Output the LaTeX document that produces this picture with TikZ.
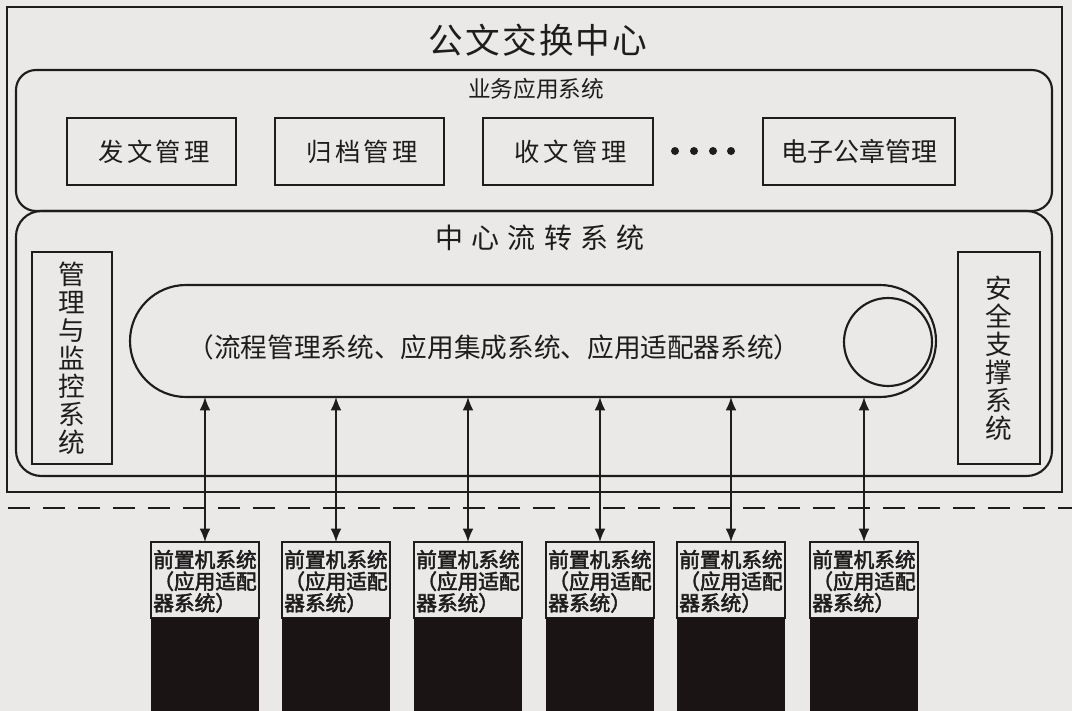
\documentclass[tikz,border=0pt]{standalone}
\usepackage{fontspec}
\newfontfamily\cjk{Noto Sans CJK SC}
\newfontfamily\cjkA[LetterSpace=6]{Noto Sans CJK SC}
\newfontfamily\cjkB[LetterSpace=14]{Noto Sans CJK SC}
\newfontfamily\cjkC[LetterSpace=30]{Noto Sans CJK SC}
\newfontfamily\cjkD[FakeBold=2.5]{Noto Sans CJK SC}
\usetikzlibrary{fit,arrows.meta}
\definecolor{bg}{RGB}{234,233,231}
\definecolor{ink}{RGB}{30,28,28}
\definecolor{blk}{RGB}{26,20,20}
\tikzset{
  frame/.style={draw=ink, line width=1.6pt, inner sep=0pt, outer sep=0pt},
  titletext/.style={font=\cjkA\fontsize{26pt}{30pt}\selectfont, text=ink},
  subtitle/.style={font=\cjk\fontsize{17pt}{20pt}\selectfont, text=ink},
  boxtext/.style={font=\cjkB\fontsize{19pt}{22pt}\selectfont, text=ink, inner sep=0pt},
  flowtitle/.style={font=\cjkC\fontsize{21pt}{24pt}\selectfont, text=ink},
  vtext/.style={font=\cjk\fontsize{20pt}{21pt}\selectfont, text=ink, align=center, inner sep=0pt},
  midtext/.style={font=\cjk\fontsize{20pt}{24pt}\selectfont, text=ink},
  pctext/.style={font=\cjkD\fontsize{15.5pt}{16.2pt}\selectfont, text=ink, align=left, inner sep=0pt},
  blackbox/.style={fill=blk, draw=none, inner sep=0pt, outer sep=0pt},
  dotnode/.style={circle, fill=ink, inner sep=0pt, minimum size=6pt},
  dashline/.style={draw=ink, line width=1.6pt, dash pattern=on 16.5pt off 9.75pt, dash phase=-6pt},
  biarrow/.style={draw=ink, line width=1.1pt, {Latex[length=10pt,width=8pt]}-{Latex[length=10pt,width=8pt]}}
}
\begin{document}
\begin{tikzpicture}[x=0.75pt,y=-0.75pt]
\fill[bg] (0,0) rectangle (1072,711);
\useasboundingbox (0,0) rectangle (1072,711);

% outer frame
\node[frame, fit={(7,7)(1062,492)}] (outer) {};
\node[titletext] (title) at (538,40) {公文交换中心};

% business application system
\node[frame, rounded corners=15pt, fit={(16,70)(1052,211)}] (biz) {};
\node[subtitle] (biztitle) at (536,89) {业务应用系统};
\node[frame, fit={(67,118)(236,185)}] (fw) {};
\node[boxtext] (fwt) at ([xshift=2pt]fw.center) {发文管理};
\node[frame, fit={(275,118)(444,185)}] (gd) {};
\node[boxtext] (gdt) at ([xshift=2pt]gd.center) {归档管理};
\node[frame, fit={(483,118)(653,185)}] (sw) {};
\node[boxtext] (swt) at ([xshift=2pt]sw.center) {收文管理};
\node[dotnode] (d1) at (675,151) {};
\node[dotnode] (d2) at (694,151) {};
\node[dotnode] (d3) at (713,151) {};
\node[dotnode] (d4) at (731,151) {};
\node[frame, fit={(763,118)(955,185)}] (dz) {};
\node[font=\cjk\fontsize{19.5pt}{22pt}\selectfont, text=ink, inner sep=0pt] (dzt) at (dz.center) {电子公章管理};

% central flow system
\node[frame, rounded corners=19pt, fit={(16,211)(1052,476)}] (flow) {};
\node[flowtitle] (flowtitle) at (540,238) {中心流转系统};
\node[frame, fit={(32,252)(112,464)}] (mon) {};
\node[vtext] (montext) at (mon.center) {管\\理\\与\\监\\控\\系\\统};
\node[frame, fit={(958,252)(1040,464)}] (sec) {};
\node[vtext] (sectext) at (sec.center) {安\\全\\支\\撑\\系\\统};

\node[frame, rounded corners=42pt, fit={(130,285)(936,397)}] (st) {};
\node[midtext] (sttext) at (494,347) {（流程管理系统、应用集成系统、应用适配器系统）};
\node[frame, circle, minimum size=66pt] (ring) at (888,342) {};

% dashed boundary
\coordinate (dl) at (0,508);
\coordinate (dr) at (1072,508);
\draw[dashline] (dl) -- (dr);

% front-end machines
\foreach \i/\cx in {1/205,2/336,3/468,4/600,5/731,6/864}{
  \node[frame, fit={(\cx-54,542)(\cx+54,618)}] (pc\i) {};
  \node[blackbox, fit={(\cx-54,618)(\cx+54,711)}] (pcb\i) {};
  \node[pctext] (pct\i) at ([yshift=-1pt]pc\i.center) {前置机系统\\（应用适配\\器系统）};
  \draw[biarrow] (st.south -| pc\i.north) -- (pc\i.north);
}
\end{tikzpicture}
\end{document}
